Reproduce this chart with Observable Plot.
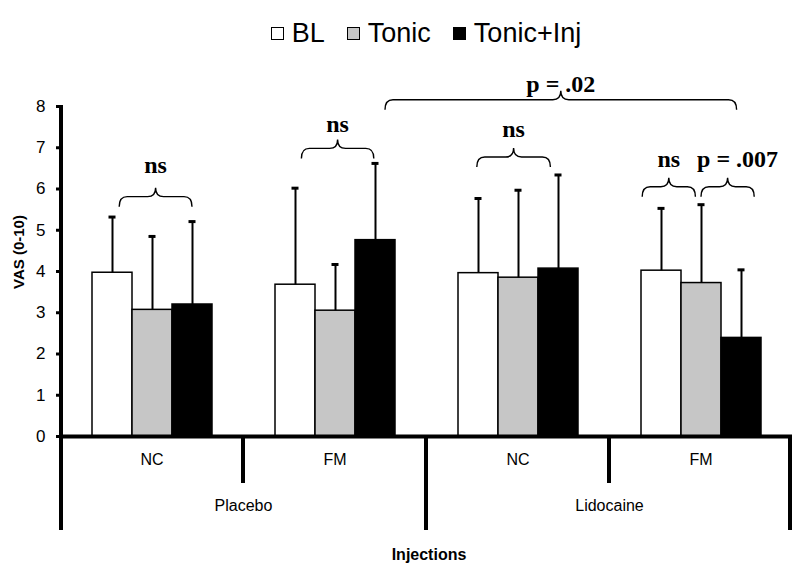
<!DOCTYPE html>
<html><head><meta charset="utf-8">
<script src="https://cdn.jsdelivr.net/npm/d3@7"></script>
<script src="https://cdn.jsdelivr.net/npm/@observablehq/plot@0.6"></script>
<style>
body{margin:0;background:#fff;font-family:"Liberation Sans",Arial,sans-serif;}
#legend{height:56px;box-sizing:border-box;padding-top:10px;margin-left:60px;width:732px;display:flex;justify-content:center;align-items:center;font-size:27px;line-height:30px;color:#000;}
#legend .item{display:flex;align-items:center;margin:0 11px;}
#legend .sw{width:11px;height:11px;border:1.5px solid #000;margin-right:8px;}
</style></head><body>
<div id="legend"></div><div id="chart"></div>
<script>
// ---- data ----
const injections = ["Placebo", "Placebo", "Lidocaine", "Lidocaine"];
const cohorts = ["NC", "FM", "NC", "FM"];
const series = ["BL", "Tonic", "Tonic+Inj"];
const blMean = [3.97, 3.68, 3.96, 4.02];
const blSD = [1.35, 2.34, 1.81, 1.51];
const tonicMean = [3.07, 3.05, 3.85, 3.72];
const tonicSD = [1.78, 1.12, 2.12, 1.90];
const injMean = [3.20, 4.76, 4.07, 2.39];
const injSD = [2.01, 1.86, 2.27, 1.65];
const yTicks = [0, 1, 2, 3, 4, 5, 6, 7, 8];
const yLabel = "VAS (0-10)";
const xLabel = "Injections";
// significance annotations
const annLabel = ["ns", "ns", "p = .02", "ns", "ns", "p = .007"];
const annFromGroup = [0, 1, 1, 2, 3, 3];
const annFromSeries = ["BL", "BL", "Tonic+Inj", "BL", "BL", "Tonic"];
const annToGroup = [0, 1, 3, 2, 3, 3];
const annToSeries = ["Tonic+Inj", "Tonic+Inj", "Tonic+Inj", "Tonic+Inj", "Tonic", "Tonic+Inj"];
const annBraceLevel = [5.56, 6.73, 7.91, 6.52, 5.80, 5.80];
const annTextLevel = [6.38, 7.38, 8.34, 7.24, 6.52, 6.52];
const annFromAt = [0.68, 0.66, 0.75, 0.47, 0.03, 0.50];
const annToAt = [0.50, 0.47, 0.39, 0.31, 0.36, 0.83];

// ---- style ----
const seriesFill = ["#ffffff", "#c6c6c6", "#000000"];

// ---- table ----
const groups = injections.map((inj, i) => inj + " " + cohorts[i]);
const means = [blMean, tonicMean, injMean];
const sds = [blSD, tonicSD, injSD];
const rows = [];
groups.forEach((g, i) => series.forEach((s, j) => rows.push({group: g, series: s, mean: means[j][i], sd: sds[j][i]})));
const groupIdx = groups.map((g, i) => i);

// ---- legend ----
const leg = document.getElementById("legend");
series.forEach((s, j) => {
  const it = document.createElement("span"); it.className = "item";
  const sw = document.createElement("span"); sw.className = "sw"; sw.style.background = seriesFill[j];
  const tx = document.createElement("span"); tx.textContent = s;
  it.append(sw, tx); leg.append(it);
});

// ---- chart ----
const W = 800, H = 516;
const chart = Plot.plot({
  width: W, height: H, marginTop: 50, marginBottom: 136, marginLeft: 60, marginRight: 8,
  style: {fontFamily: "'Liberation Sans', Arial, sans-serif", fontSize: "16px", background: "white", overflow: "visible"},
  fx: {domain: groups, padding: 0, axis: null},
  x: {domain: series, paddingInner: 0, paddingOuter: 0.745, axis: null},
  y: {domain: [0, 8]},
  color: {domain: series, range: seriesFill},
  marks: [
    Plot.barY(rows, {fx: "group", x: "series", y: "mean", fill: "series", stroke: "black", strokeWidth: 1.5}),
    Plot.ruleX(rows, {fx: "group", x: "series", y1: "mean", y2: d => d.mean + d.sd, stroke: "black", strokeWidth: 2}),
    Plot.tickY(rows, {fx: "group", x: "series", y: d => d.mean + d.sd, stroke: "black", strokeWidth: 3, insetLeft: 16.5, insetRight: 16.5}),
    Plot.ruleY([0], {stroke: "black", strokeWidth: 4}),
    Plot.axisY(yTicks, {tickSize: 4, tickPadding: 11, strokeWidth: 3, fontSize: 17, label: null}),
    Plot.text(groupIdx, {fx: i => groups[i], text: i => cohorts[i], frameAnchor: "bottom", dy: 28, fontSize: 16}),
    Plot.text(groupIdx.filter(i => i === 0 || injections[i] !== injections[i - 1]),
      {fx: i => groups[i], text: i => injections[i], frameAnchor: "bottom-right", textAnchor: "middle", dy: 74, fontSize: 16})
  ]
});
document.getElementById("chart").append(chart);

// ---- decorations derived from the chart's scales ----
function band(desc) {
  const b = d3.scaleBand().domain(desc.domain).range(desc.range)
    .paddingInner(desc.paddingInner ?? 0).paddingOuter(desc.paddingOuter ?? 0).align(desc.align ?? 0.5);
  if (desc.round) b.round(true);
  return b;
}
const fxD = chart.scale("fx"), xD = chart.scale("x"), yD = chart.scale("y");
const fxS = band(fxD), xS = band(xD);
const xOrigin = Math.min(...xD.range);
const xAbs = (gr, s, at) => fxS(gr) + (xS(s) - xOrigin) + xS.bandwidth() * at;
const yS = d3.scaleLinear(yD.domain, yD.range);
const y0 = yS(0);
const svg = d3.select(chart);
const g = svg.append("g").attr("stroke", "black").attr("fill", "none");
const left = fxS.range()[0], right = fxS.range()[1];
const shortDrop = 47, longDrop = 94;
// y axis line
g.append("line").attr("x1", left + 1).attr("x2", left + 1).attr("y1", yS(8) - 1).attr("y2", y0 + longDrop).attr("stroke-width", 4);
// dividers
groups.forEach((gr, i) => {
  if (i === 0) return;
  const x = fxS(gr);
  const drop = injections[i] !== injections[i - 1] ? longDrop : shortDrop;
  g.append("line").attr("x1", x).attr("x2", x).attr("y1", y0).attr("y2", y0 + drop).attr("stroke-width", 4);
});
g.append("line").attr("x1", right - 2).attr("x2", right - 2).attr("y1", y0 - 1).attr("y2", y0 + longDrop).attr("stroke-width", 4);
// axis titles
const sans = "'Liberation Sans', Arial, sans-serif";
svg.append("text").attr("x", (left + right) / 2 + 3).attr("y", y0 + 124).attr("text-anchor", "middle")
  .attr("font-weight", "bold").attr("font-size", 16).attr("font-family", sans).text(xLabel);
svg.append("text").attr("transform", `translate(24,${yS(4.46)}) rotate(-90)`).attr("text-anchor", "middle")
  .attr("font-weight", "bold").attr("font-size", 15).attr("font-family", sans).text(yLabel);
// braces + labels
annLabel.forEach((lab, k) => {
  const x1 = xAbs(groups[annFromGroup[k]], annFromSeries[k], annFromAt[k]);
  const x2 = xAbs(groups[annToGroup[k]], annToSeries[k], annToAt[k]);
  const xm = (x1 + x2) / 2;
  const yE = yS(annBraceLevel[k]), yH = yE - 10, yA = yE - 19;
  const r = 8;
  const p = `M${x1},${yE} Q${x1},${yH} ${x1 + r},${yH} L${xm - r},${yH} Q${xm},${yH} ${xm},${yA} Q${xm},${yH} ${xm + r},${yH} L${x2 - r},${yH} Q${x2},${yH} ${x2},${yE}`;
  g.append("path").attr("d", p).attr("stroke-width", 1.4);
  svg.append("text").attr("x", xm + (k === annLabel.length - 1 ? 10 : 0)).attr("y", yS(annTextLevel[k])).attr("text-anchor", "middle")
    .attr("font-family", "'Liberation Serif', 'Times New Roman', serif").attr("font-weight", "bold").attr("font-size", 24).text(lab);
});
</script>
</body></html>
